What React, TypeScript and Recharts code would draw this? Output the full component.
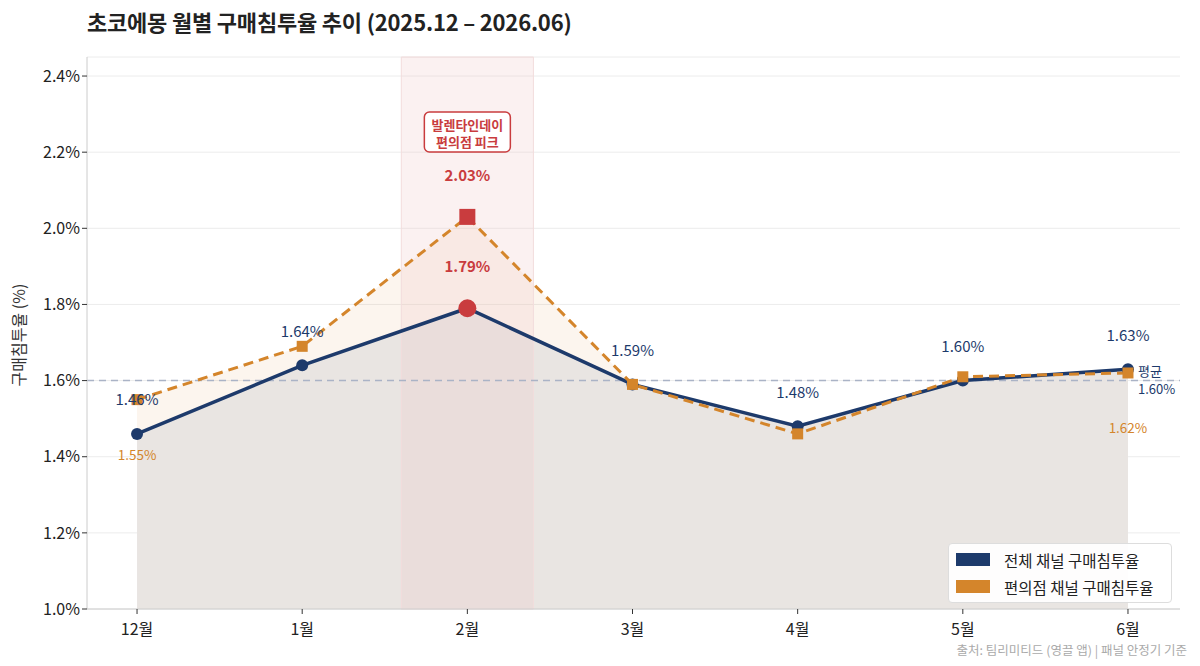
import React from 'react';
import {
  ComposedChart,
  Area,
  Line,
  XAxis,
  YAxis,
  CartesianGrid,
  ReferenceLine,
  ReferenceArea,
  LabelList,
} from 'recharts';

const months = ['12월', '1월', '2월', '3월', '4월', '5월', '6월'];
const totalRate = [1.46, 1.64, 1.79, 1.59, 1.48, 1.60, 1.63];
const cvsRate = [1.55, 1.69, 2.03, 1.59, 1.46, 1.61, 1.62];
const yTicks = [1.0, 1.2, 1.4, 1.6, 1.8, 2.0, 2.2, 2.4];
const avgRate = 1.6;
const peakIndex = 2;
const cvsLabelIndexes = [0, 6];
const seriesNames = ['전체 채널 구매침투율', '편의점 채널 구매침투율'];

const data = months.map((m, i) => ({ idx: i, month: m, total: totalRate[i], cvs: cvsRate[i] }));

const NAVY = '#1d3a6b';
const ORANGE = '#d4852b';
const RED = '#c93c3e';
const FONT = '"Noto Sans CJK KR", "Noto Sans", sans-serif';

const pct = (v: number) => `${v.toFixed(2)}%`;

const TotalDot = (props: any) => {
  const { cx, cy, index } = props;
  if (index === peakIndex) {
    return <circle key={`td-${index}`} cx={cx} cy={cy} r={9} fill={RED} />;
  }
  return <circle key={`td-${index}`} cx={cx} cy={cy} r={6} fill={NAVY} />;
};

const CvsDot = (props: any) => {
  const { cx, cy, index } = props;
  const s = index === peakIndex ? 16 : 11;
  const c = index === peakIndex ? RED : ORANGE;
  return <rect key={`cd-${index}`} x={cx - s / 2} y={cy - s / 2} width={s} height={s} fill={c} />;
};

const TotalLabel = (props: any) => {
  const { x, y, value, index } = props;
  if (index === peakIndex) {
    return (
      <text x={x} y={y - 43} textAnchor="middle" dominantBaseline="central" fill={RED} fontSize={15} fontWeight={700} fontFamily={FONT}>
        {pct(value)}
      </text>
    );
  }
  return (
    <text x={x} y={y - 35} textAnchor="middle" dominantBaseline="central" fill={NAVY} fontSize={15} fontFamily={FONT}>
      {pct(value)}
    </text>
  );
};

const CvsLabel = (props: any) => {
  const { x, y, value, index } = props;
  if (index === peakIndex) {
    return (
      <text x={x} y={y - 42} textAnchor="middle" dominantBaseline="central" fill={RED} fontSize={15} fontWeight={700} fontFamily={FONT}>
        {pct(value)}
      </text>
    );
  }
  if (!cvsLabelIndexes.includes(index)) return null;
  return (
    <text x={x} y={y + 54} textAnchor="middle" dominantBaseline="central" fill={ORANGE} fontSize={13.5} fontFamily={FONT}>
      {pct(value)}
    </text>
  );
};

const BandLabel = (props: any) => {
  const { viewBox } = props;
  const cx = viewBox.x + viewBox.width / 2;
  const top = viewBox.y + 55;
  return (
    <g>
      <rect x={cx - 43} y={top} width={86} height={40} rx={5} fill="#fff" stroke={RED} strokeWidth={1.5} />
      <text x={cx} y={top + 12} textAnchor="middle" dominantBaseline="central" fill={RED} fontSize={13} fontWeight={700} fontFamily={FONT}>
        발렌타인데이
      </text>
      <text x={cx} y={top + 29} textAnchor="middle" dominantBaseline="central" fill={RED} fontSize={13} fontWeight={700} fontFamily={FONT}>
        편의점 피크
      </text>
    </g>
  );
};

const AvgLabel = (props: any) => {
  const { viewBox } = props;
  const x = viewBox.x + viewBox.width - 42;
  const y = viewBox.y;
  return (
    <g>
      <text x={x} y={y - 10} dominantBaseline="central" fill={NAVY} fontSize={13} fontFamily={FONT}>평균</text>
      <text x={x} y={y + 8} dominantBaseline="central" fill={NAVY} fontSize={13} fontFamily={FONT}>{pct(avgRate)}</text>
    </g>
  );
};

const MonthTick = (props: any) => {
  const { x, y, payload } = props;
  return (
    <text x={x} y={y + 12} textAnchor="middle" dominantBaseline="central" fill="#222" fontSize={16} fontFamily={FONT}>
      {months[payload.value]}
    </text>
  );
};

export default function App() {
  return (
    <div style={{ position: 'fixed', left: 0, top: 0, width: 1200, height: 666, background: '#fff', fontFamily: FONT }}>
      <div style={{ position: 'absolute', left: 87, top: 5, fontSize: 22, fontWeight: 700, color: '#222', letterSpacing: -0.2 }}>
        초코에몽 월별 구매침투율 추이 (2025.12 – 2026.06)
      </div>
      <div
        style={{
          position: 'absolute',
          left: 18,
          top: 335,
          transform: 'translate(-50%, -50%) rotate(-90deg)',
          fontSize: 16,
          color: '#333',
          whiteSpace: 'nowrap',
        }}
      >
        구매침투율 (%)
      </div>
      <ComposedChart width={1200} height={666} data={data} margin={{ top: 57, right: 20, bottom: 27, left: 27 }}>
        <CartesianGrid vertical={false} stroke="#ececec" />
        <XAxis
          dataKey="idx"
          type="number"
          domain={[-0.303, 6.315]}
          ticks={[0, 1, 2, 3, 4, 5, 6]}
          allowDataOverflow
          height={30}
          axisLine={{ stroke: '#cccccc' }}
          tickLine={{ stroke: '#333' }}
          tickSize={5}
          tick={<MonthTick />}
        />
        <YAxis
          type="number"
          domain={[1.0, 2.45]}
          ticks={yTicks}
          allowDataOverflow
          width={60}
          tickFormatter={(v: number) => `${v.toFixed(1)}%`}
          axisLine={{ stroke: '#cccccc' }}
          tickLine={{ stroke: '#333' }}
          tickSize={5}
          tick={{ fill: '#222', fontSize: 16, fontFamily: FONT }}
        />
        <Area dataKey="cvs" type="linear" stroke="none" fill={ORANGE} fillOpacity={0.08} isAnimationActive={false} />
        <Area dataKey="total" type="linear" stroke="#dcd6d2" strokeWidth={1} fill="#e9e5e2" fillOpacity={1} isAnimationActive={false} />
        <ReferenceArea x1={1.6} x2={2.4} y1={1.0} y2={2.45} fill="#f0c8c8" fillOpacity={0.25} stroke="#f2dcdc" label={<BandLabel />} />
        <ReferenceLine y={avgRate} stroke="#aab3c6" strokeWidth={1.5} strokeDasharray="7 5" label={<AvgLabel />} />
        <Line dataKey="total" name={seriesNames[0]} type="linear" stroke={NAVY} strokeWidth={3.5} dot={TotalDot} activeDot={false} isAnimationActive={false}>
          <LabelList dataKey="total" content={TotalLabel} />
        </Line>
        <Line dataKey="cvs" name={seriesNames[1]} type="linear" stroke={ORANGE} strokeWidth={3} strokeDasharray="10 6" dot={CvsDot} activeDot={false} isAnimationActive={false}>
          <LabelList dataKey="cvs" content={CvsLabel} />
        </Line>
      </ComposedChart>
      <div
        style={{
          position: 'absolute',
          left: 948,
          top: 543,
          width: 224,
          boxSizing: 'border-box',
          background: 'rgba(255,255,255,0.92)',
          border: '1px solid #dddddd',
          borderRadius: 4,
          padding: '2px 0 2px 7px',
          fontSize: 15.5,
          color: '#222',
        }}
      >
        {seriesNames.map((name, i) => (
          <div key={name} style={{ display: 'flex', alignItems: 'center', height: 27 }}>
            <span style={{ display: 'inline-block', width: 34, height: 13, background: i === 0 ? NAVY : ORANGE, marginRight: 14 }} />
            <span>{name}</span>
          </div>
        ))}
      </div>
      <div style={{ position: 'absolute', right: 13, top: 643, fontSize: 12.5, lineHeight: '14px', color: '#aaaaaa' }}>
        출처: 팀리미티드 (영끌 앱) | 패널 안정기 기준
      </div>
    </div>
  );
}
